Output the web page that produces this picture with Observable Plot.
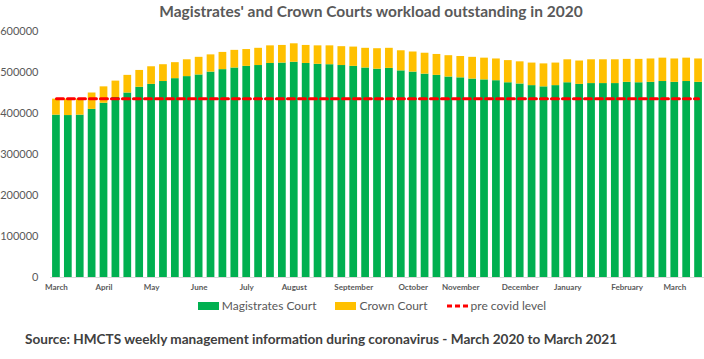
<!DOCTYPE html>
<html><head><meta charset="utf-8">
<script src="https://cdn.jsdelivr.net/npm/d3@7"></script>
<script src="https://cdn.jsdelivr.net/npm/@observablehq/plot@0.6"></script>
<style>
body{margin:0;background:#fff;}
#wrap{position:relative;width:704px;height:359px;font-family:Lato,"Open Sans",sans-serif;overflow:hidden;}
#title{position:absolute;top:2px;left:0;width:704px;padding-left:38px;box-sizing:border-box;text-align:center;font-weight:bold;font-size:15.5px;color:#595959;}
#chart{position:absolute;top:22px;left:0;}
#legend{position:absolute;top:298px;left:0;width:704px;display:flex;justify-content:center;align-items:center;gap:19px;font-size:12px;color:#595959;padding-left:40px;box-sizing:border-box;}
#legend .item{display:flex;align-items:center;}
#legend .sw{width:21px;height:8px;margin-right:3px;}
#source{position:absolute;top:331px;left:25px;font-weight:bold;font-size:13.6px;color:#404040;}
</style>
</head><body>
<div id="wrap">
  <div id="title">Magistrates' and Crown Courts workload outstanding in 2020</div>
  <div id="chart"></div>
  <div id="legend"></div>
  <div id="source">Source: HMCTS weekly management information during coronavirus - March 2020 to March 2021</div>
</div>
<script>
// Weekly categories (55 weeks, March 2020 – March 2021)
const weeks = d3.range(1, 56);
// Magistrates' Court outstanding workload per week
const magistrates = [396000,395000,396000,410000,425000,439000,450000,464000,471000,478000,
  485000,490000,494000,501000,507000,511000,515000,517000,522000,523000,
  525000,522000,520000,519000,517000,515000,511000,508000,510000,504000,
  501000,496000,493000,489000,487000,484000,482000,480000,475000,472000,
  468000,465000,468000,475000,471000,473000,473000,473000,476000,475000,
  476000,478000,476000,478000,476000];
// Crown Court outstanding workload per week
const crown = [39000,40000,39000,40000,40000,40000,43000,41000,43000,41000,
  39000,41000,43000,42000,42000,43000,41000,42000,43000,43000,
  45000,44000,45000,46000,46000,47000,48000,50000,49000,49000,
  49000,51000,51000,52000,52000,53000,53000,53000,54000,54000,
  55000,56000,55000,56000,57000,58000,58000,58000,56000,57000,
  57000,57000,57000,57000,57000];
const preCovidLevel = 436000;
const seriesNames = ["Magistrates Court", "Crown Court"];
const seriesColors = ["#00b050", "#ffc000"];
const yTicks = [0, 100000, 200000, 300000, 400000, 500000, 600000];
const monthLabels = ["March","April","May","June","July","August","September","October","November","December","January","February","March"];
const monthLabelWeeks = [1,5,9,13,17,21,26,31,35,40,44,49,53];

const rows = [];
weeks.forEach((w, i) => {
  rows.push({week: w, court: seriesNames[0], value: magistrates[i]});
  rows.push({week: w, court: seriesNames[1], value: crown[i]});
});
const lineRows = weeks.map(w => ({week: w, level: preCovidLevel}));

const chart = Plot.plot({
  width: 704, height: 275,
  marginTop: 9, marginBottom: 20, marginLeft: 50, marginRight: 0,
  style: {fontFamily: "Lato, 'Open Sans', sans-serif", color: "#595959", background: "transparent", overflow: "visible"},
  x: {type: "band", domain: weeks, paddingInner: 0.35, paddingOuter: 0.175, axis: null},
  y: {domain: [0, 600000], axis: null},
  color: {domain: seriesNames, range: seriesColors},
  marks: [
    Plot.axisY({ticks: yTicks, tickFormat: d3.format("d"), tickSize: 0, tickPadding: 12, fontSize: 11, label: null}),
    Plot.axisX({ticks: monthLabelWeeks, tickFormat: w => monthLabels[monthLabelWeeks.indexOf(w)], tickSize: 0, tickPadding: 7, fontSize: 8, fontWeight: "bold", label: null}),
    Plot.barY(rows, {x: "week", y: "value", fill: "court"}),
    Plot.ruleY([0], {stroke: "#d9d9d9", strokeWidth: 1}),
    Plot.lineY(lineRows, {x: "week", y: "level", stroke: "#ff0000", strokeWidth: 3, strokeDasharray: "7,4"})
  ]
});
document.getElementById("chart").appendChild(chart);

const legend = document.getElementById("legend");
seriesNames.forEach((name, i) => {
  const it = document.createElement("div"); it.className = "item";
  const sw = document.createElement("div"); sw.className = "sw"; sw.style.background = seriesColors[i];
  it.appendChild(sw); it.appendChild(document.createTextNode(name));
  legend.appendChild(it);
});
const li = document.createElement("div"); li.className = "item";
li.innerHTML = '<svg width="22" height="8" style="margin-right:2px"><line x1="0" y1="4" x2="22" y2="4" stroke="#ff0000" stroke-width="3" stroke-dasharray="5,3"/></svg>pre covid level';
legend.appendChild(li);
</script>
</body></html>
